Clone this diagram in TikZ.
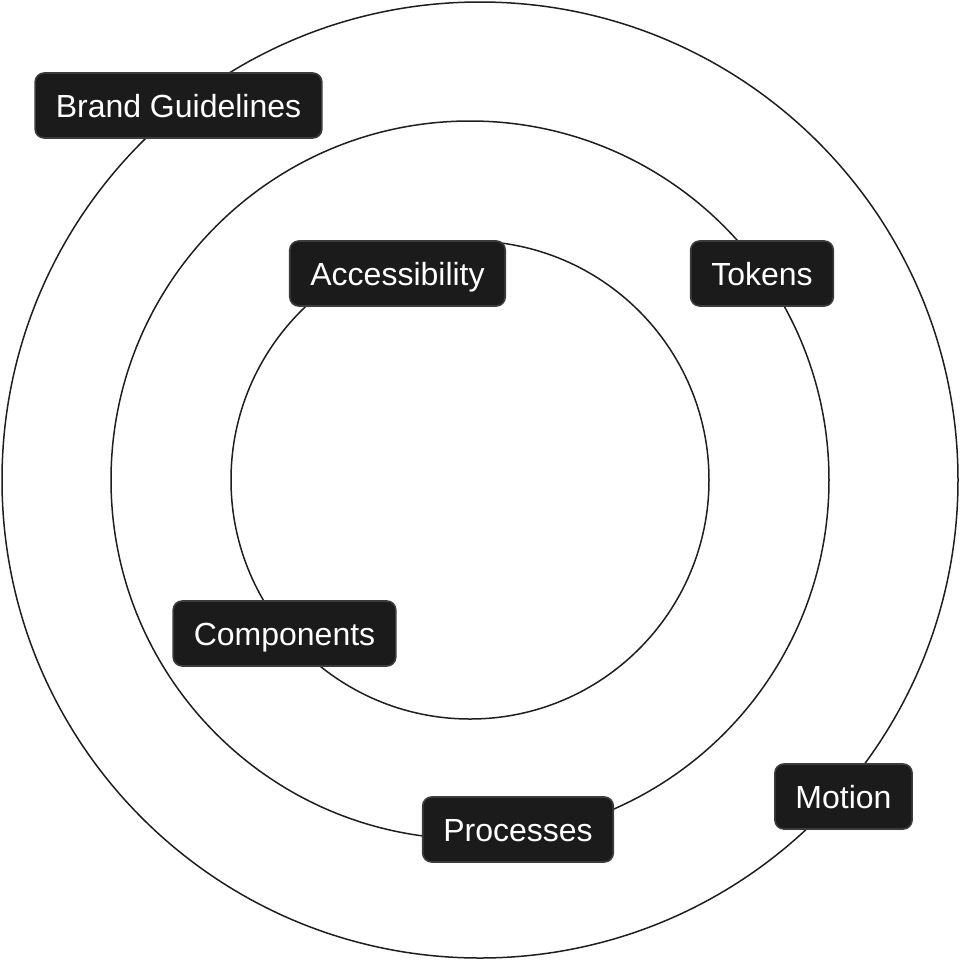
\documentclass[tikz,border=0pt]{standalone}
\usepackage{fontspec}
\setmainfont{Liberation Sans}
\usepackage{tikz}
\usetikzlibrary{positioning}

\definecolor{boxfill}{HTML}{1B1B1B}
\definecolor{boxline}{HTML}{3C3C3C}
\definecolor{ringline}{HTML}{1F1F1F}

\begin{document}
\begin{tikzpicture}[
	x=0.5pt, y=-0.5pt,
	ring/.style={draw=ringline, line width=0.75pt},
	tag/.style={draw=boxline, fill=boxfill, line width=0.8pt, rounded corners=4.5pt,
		text=white, font=\fontsize{16}{19}\selectfont,
		text height=11.5pt, text depth=0pt,
		inner xsep=10.3pt, inner ysep=0pt, minimum height=32.5pt}
]
	\useasboundingbox (0,0) rectangle (960,960);

	% centres of the rings
	\coordinate (O) at (480,480);
	\coordinate (I) at (470,480);

	% Draw rings
	\draw[ring] (O) circle[radius=478];
	\draw[ring] (I) circle[radius=359];
	\draw[ring] (I) circle[radius=239];

	% labels on the rings
	\node[tag] (brand) at (178.5,105.5) {Brand Guidelines};
	\node[tag] (access) at (397.5,273.5) {Accessibility};
	\node[tag] (tokens) at (762,273.5) {Tokens};
	\node[tag] (comp) at (284.5,633.5) {Components};
	\node[tag] (proc) at (518,829.5) {Processes};
	\node[tag] (motion) at (843.5,796.5) {Motion};
\end{tikzpicture}
\end{document}
